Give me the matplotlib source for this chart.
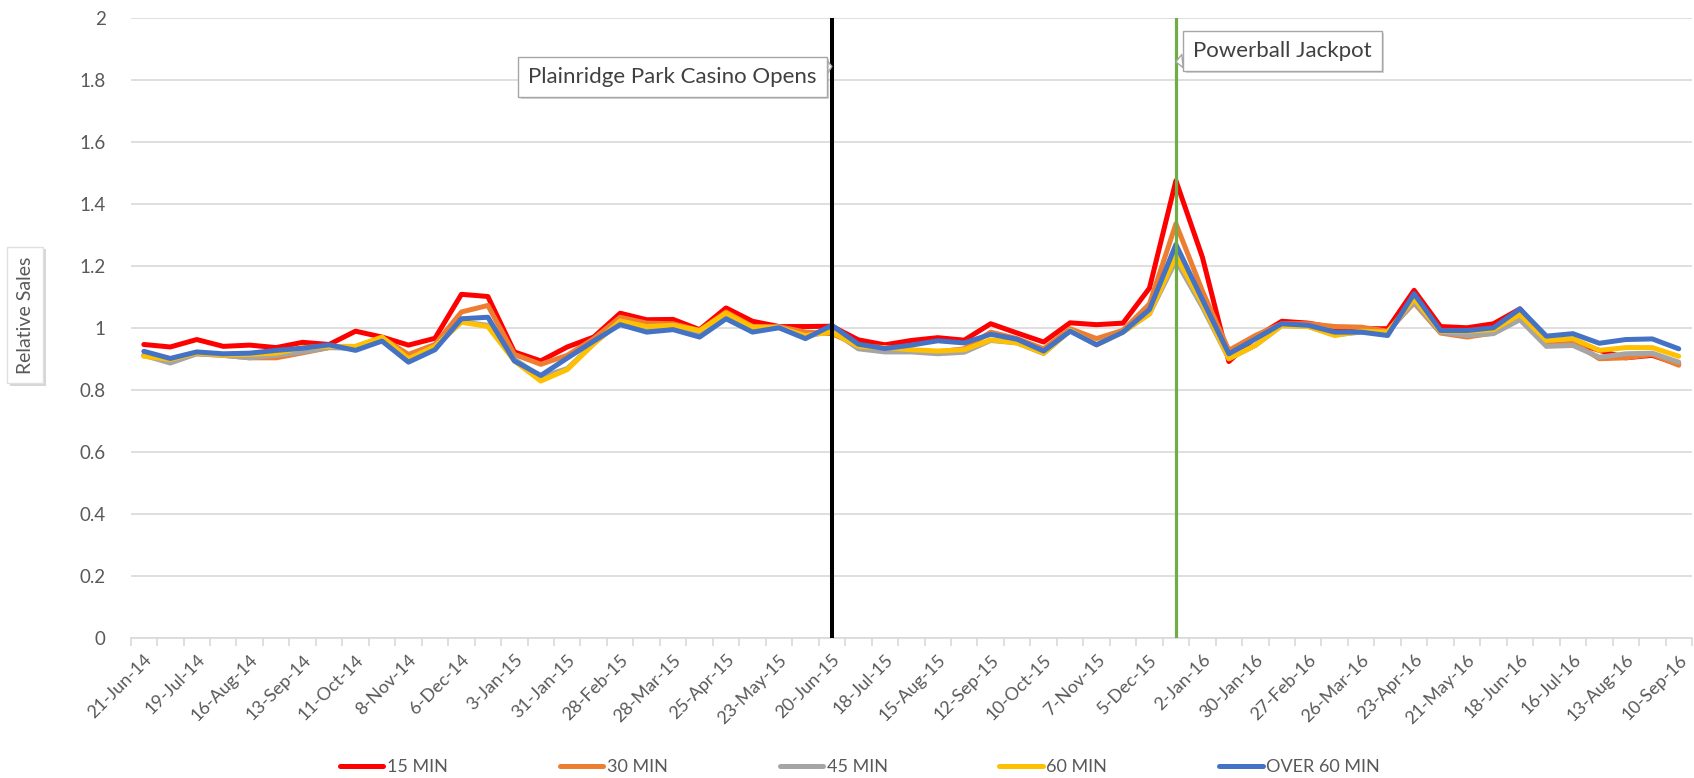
import matplotlib
matplotlib.use('Agg')
import matplotlib.pyplot as plt
import matplotlib.patheffects as pe
import numpy as np
import pandas as pd

plt.rcParams['font.family'] = ['Lato', 'DejaVu Sans']

# tygodnie co 2 tygodnie
dates = pd.date_range('2014-06-21', periods=59, freq='14D')
labels = [f"{d.day}-{d.strftime('%b-%y')}" for d in dates]

min15 = [0.947, 0.939, 0.963, 0.941, 0.945, 0.937, 0.954, 0.947, 0.990, 0.971,
         0.945, 0.967, 1.109, 1.102, 0.923, 0.894, 0.939, 0.971, 1.048, 1.027,
         1.028, 0.995, 1.065, 1.022, 1.005, 1.005, 1.006, 0.962, 0.946, 0.960,
         0.969, 0.961, 1.014, 0.984, 0.955, 1.017, 1.011, 1.016, 1.129, 1.476,
         1.229, 0.892, 0.970, 1.022, 1.016, 1.001, 0.998, 0.998, 1.122, 1.005,
         1.001, 1.014, 1.062, 0.960, 0.955, 0.928, 0.904, 0.912, 0.883]
min30 = [0.912, 0.896, 0.917, 0.912, 0.904, 0.904, 0.920, 0.937, 0.940, 0.969,
         0.915, 0.947, 1.052, 1.073, 0.915, 0.883, 0.912, 0.966, 1.035, 1.016,
         1.014, 0.992, 1.052, 1.005, 1.005, 0.987, 0.982, 0.944, 0.933, 0.928,
         0.923, 0.933, 0.987, 0.966, 0.933, 0.998, 0.966, 0.993, 1.078, 1.337,
         1.120, 0.928, 0.976, 1.014, 1.014, 1.005, 1.003, 0.990, 1.081, 0.984,
         0.971, 0.984, 1.041, 0.955, 0.955, 0.901, 0.904, 0.915, 0.880]
min45 = [0.912, 0.887, 0.917, 0.912, 0.904, 0.912, 0.923, 0.937, 0.934, 0.966,
         0.896, 0.941, 1.020, 1.009, 0.900, 0.842, 0.869, 0.950, 1.020, 1.002,
         1.002, 0.983, 1.041, 0.998, 1.003, 0.972, 0.992, 0.933, 0.923, 0.923,
         0.917, 0.922, 0.960, 0.952, 0.918, 0.992, 0.946, 0.987, 1.046, 1.218,
         1.068, 0.901, 0.944, 1.008, 1.005, 0.978, 0.987, 0.987, 1.084, 0.987,
         0.976, 0.982, 1.027, 0.941, 0.944, 0.906, 0.917, 0.919, 0.890]
min60 = [0.909, 0.899, 0.920, 0.913, 0.915, 0.919, 0.937, 0.941, 0.941, 0.971,
         0.901, 0.941, 1.019, 1.005, 0.894, 0.829, 0.866, 0.949, 1.023, 1.005,
         1.009, 0.992, 1.048, 1.003, 1.001, 0.976, 0.987, 0.941, 0.937, 0.930,
         0.926, 0.930, 0.962, 0.952, 0.919, 0.992, 0.946, 0.987, 1.046, 1.234,
         1.078, 0.901, 0.944, 1.008, 1.005, 0.976, 0.990, 0.987, 1.095, 0.990,
         0.990, 0.995, 1.044, 0.960, 0.966, 0.928, 0.937, 0.937, 0.909]
over60 = [0.925, 0.902, 0.923, 0.917, 0.919, 0.928, 0.935, 0.946, 0.928, 0.958,
          0.890, 0.930, 1.030, 1.035, 0.894, 0.847, 0.903, 0.958, 1.011, 0.987,
          0.995, 0.971, 1.030, 0.987, 1.001, 0.966, 1.009, 0.948, 0.934, 0.945,
          0.959, 0.952, 0.980, 0.964, 0.926, 0.990, 0.946, 0.987, 1.060, 1.270,
          1.092, 0.917, 0.965, 1.014, 1.009, 0.987, 0.987, 0.976, 1.111, 0.992,
          0.992, 1.001, 1.062, 0.974, 0.982, 0.951, 0.963, 0.965, 0.933]

series_names = ['15 MIN', '30 MIN', '45 MIN', '60 MIN', 'OVER 60 MIN']
series_colors = ['#FF0000', '#ED7D31', '#A5A5A5', '#FFC000', '#4472C4']

casino_date = '2015-06-20'
powerball_date = '2015-12-19'

fig = plt.figure(figsize=(16.94, 7.78), dpi=100)
ax = fig.add_axes([0.0771, 0.1803, 0.9217, 0.7960])

x = np.arange(len(dates))
for name, vals, c in zip(series_names, [min15, min30, min45, min60, over60], series_colors):
    ax.plot(x, vals, color=c, linewidth=3.6, label=name, solid_joinstyle='round', solid_capstyle='round')

casino_idx = list(dates).index(pd.Timestamp(casino_date))
power_idx = list(dates).index(pd.Timestamp(powerball_date))
ax.axvline(casino_idx, color='black', linewidth=2.9, zorder=5)
ax.axvline(power_idx, color='#70AD47', linewidth=2.3, zorder=5)

ax.set_xlim(-0.5, len(dates) - 0.5)
ax.set_ylim(0, 2)
ax.set_yticks(np.arange(0, 2.01, 0.2))
ax.set_yticklabels([f"{v:g}" for v in np.arange(0, 2.01, 0.2)])
ax.grid(axis='y', color='#D9D9D9', linewidth=1.2)
ax.set_axisbelow(True)
for s in ['top', 'right', 'left']:
    ax.spines[s].set_visible(False)
ax.spines['bottom'].set_color('#D9D9D9')
ax.spines['bottom'].set_linewidth(1.2)

ax.set_xticks(np.arange(-0.5, len(dates), 1), minor=True)
ax.set_xticks(x[::2])
ax.set_xticklabels(labels[::2], rotation=45, ha='right', rotation_mode='anchor')
ax.tick_params(axis='x', which='major', length=0, pad=10, labelsize=13, labelcolor='#595959')
ax.tick_params(axis='x', which='minor', length=6, color='#D9D9D9', width=1.2)
ax.tick_params(axis='y', length=0, pad=18, labelsize=13.5, labelcolor='#595959')

shadow = [pe.withSimplePatchShadow(offset=(2, -2), shadow_rgbFace='#999999', alpha=0.4)]

a1 = ax.annotate('Plainridge Park Casino Opens', xy=(casino_idx, 1.845), xytext=(19.97, 1.812),
                 ha='center', va='center', fontsize=16, color='#404040',
                 bbox=dict(boxstyle='square,pad=0.45', fc='white', ec='#A6A6A6', lw=1),
                 arrowprops=dict(arrowstyle='wedge,tail_width=0.6', fc='white', ec='#A6A6A6', lw=1,
                                 shrinkA=0, shrinkB=0), zorder=6)
a1.get_bbox_patch().set_path_effects(shadow)
a2 = ax.annotate('Powerball Jackpot', xy=(power_idx, 1.86), xytext=(43.02, 1.896),
                 ha='center', va='center', fontsize=16, color='#404040',
                 bbox=dict(boxstyle='square,pad=0.45', fc='white', ec='#A6A6A6', lw=1),
                 arrowprops=dict(arrowstyle='wedge,tail_width=0.6', fc='white', ec='#A6A6A6', lw=1,
                                 shrinkA=0, shrinkB=0), zorder=6)
a2.get_bbox_patch().set_path_effects(shadow)

yl = fig.text(0.0148, 0.595, 'Relative Sales', rotation=90, ha='center', va='center',
              fontsize=14, color='#595959',
              bbox=dict(boxstyle='square,pad=0.5', fc='white', ec='#E0E0E0', lw=1))
yl.get_bbox_patch().set_path_effects(shadow)

fig.legend(loc='center', bbox_to_anchor=(860 / 1694, 1 - 767 / 778), ncol=5, frameon=False,
           fontsize=13, handlelength=2.4, handletextpad=0.2, columnspacing=6.2,
           labelcolor='#595959')

plt.savefig('out.png', dpi=100)
